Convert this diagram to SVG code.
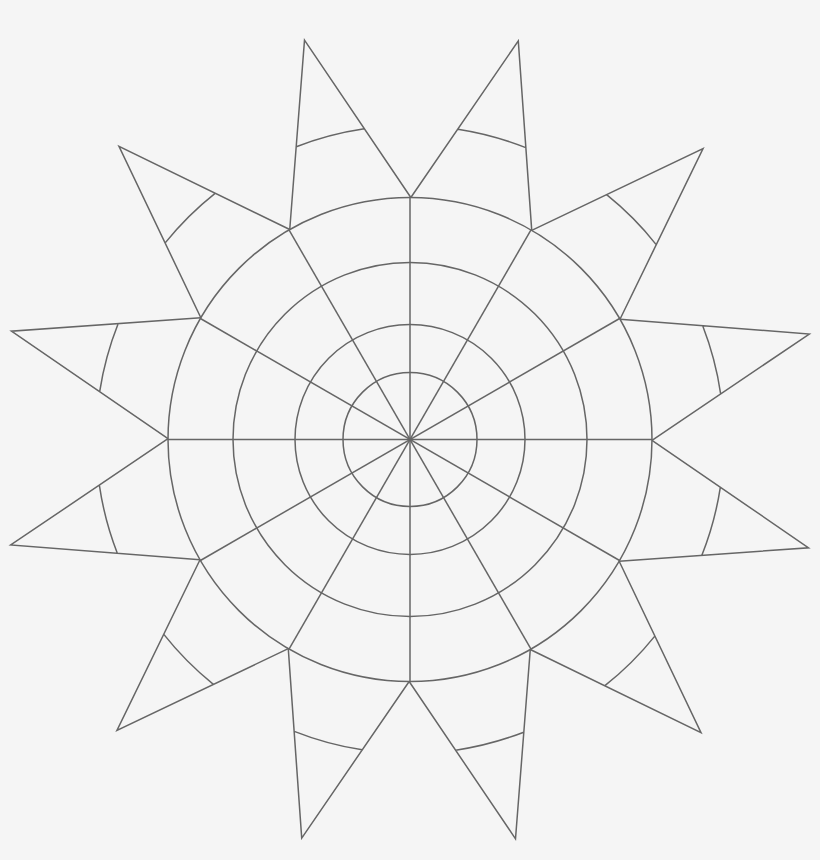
<svg xmlns="http://www.w3.org/2000/svg" xmlns:xlink="http://www.w3.org/1999/xlink" width="820" height="860" viewBox="0 0 820 860">
  <style>
    .ln { fill: none; stroke: #666666; stroke-width: 1.5; stroke-linejoin: miter; }
  </style>
  <defs>
    <path id="pt" class="ln" d="M -62.63 -233.76 L 0 -413 L 62.63 -233.76 M -35.17 -312.02 A 314 314 0 0 1 35.17 -312.02"/>
  </defs>
  <rect width="820" height="860" fill="#f5f5f5"/>
  <g transform="translate(410 439.5)">
    <g id="circles">
      <circle class="ln" r="67"/>
      <circle class="ln" r="115"/>
      <circle class="ln" r="177"/>
      <circle class="ln" r="242"/>
    </g>
    <g id="spokes">
      <line class="ln" x1="-242" y1="0" x2="242" y2="0"/>
      <line class="ln" x1="-242" y1="0" x2="242" y2="0" transform="rotate(30)"/>
      <line class="ln" x1="-242" y1="0" x2="242" y2="0" transform="rotate(60)"/>
      <line class="ln" x1="-242" y1="0" x2="242" y2="0" transform="rotate(90)"/>
      <line class="ln" x1="-242" y1="0" x2="242" y2="0" transform="rotate(120)"/>
      <line class="ln" x1="-242" y1="0" x2="242" y2="0" transform="rotate(150)"/>
    </g>
    <g id="points" transform="rotate(0.2)">
      <use xlink:href="#pt" transform="rotate(15)"/>
      <use xlink:href="#pt" transform="rotate(45)"/>
      <use xlink:href="#pt" transform="rotate(75)"/>
      <use xlink:href="#pt" transform="rotate(105)"/>
      <use xlink:href="#pt" transform="rotate(135)"/>
      <use xlink:href="#pt" transform="rotate(165)"/>
      <use xlink:href="#pt" transform="rotate(195)"/>
      <use xlink:href="#pt" transform="rotate(225)"/>
      <use xlink:href="#pt" transform="rotate(255)"/>
      <use xlink:href="#pt" transform="rotate(285)"/>
      <use xlink:href="#pt" transform="rotate(315)"/>
      <use xlink:href="#pt" transform="rotate(345)"/>
    </g>
  </g>
</svg>
